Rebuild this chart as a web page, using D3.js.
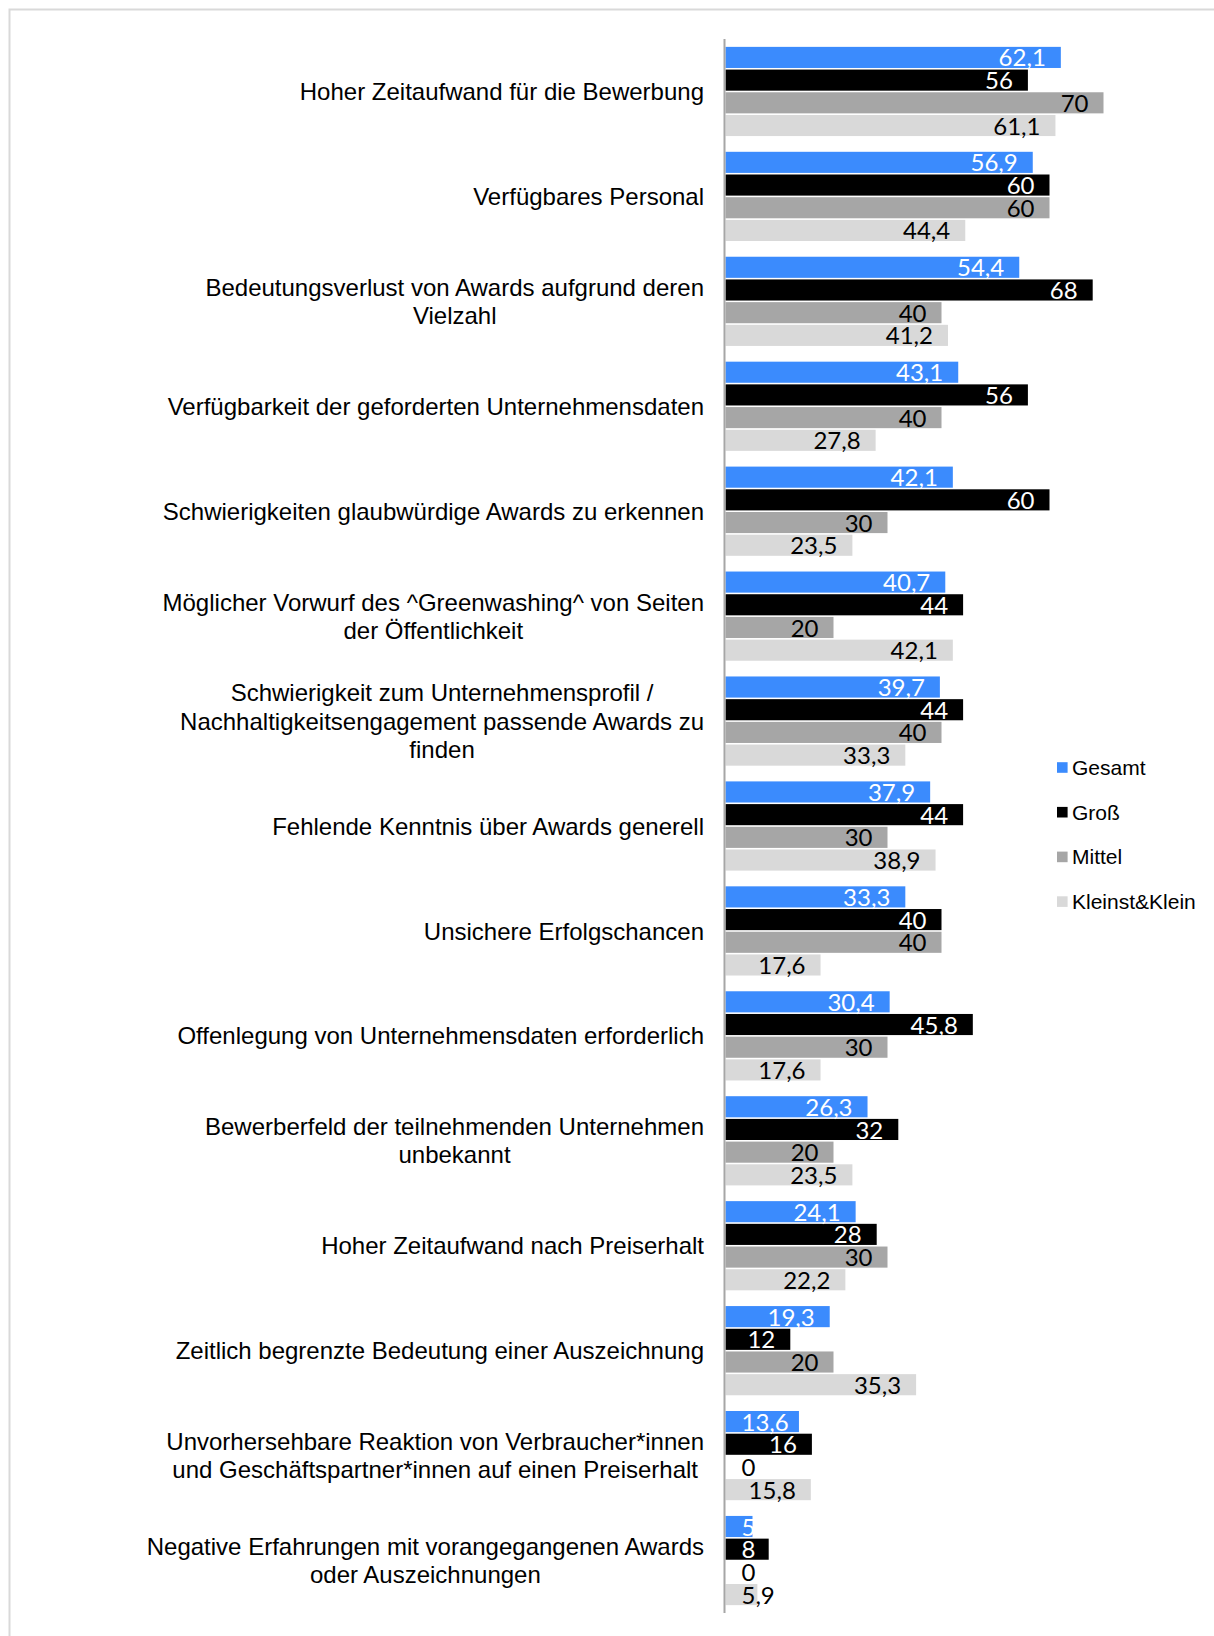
<!DOCTYPE html>
<html>
<head>
<meta charset="utf-8">
<script src="https://cdn.jsdelivr.net/npm/d3@7"></script>
<style>
  body { margin: 0; background: #fff; }
  svg { display: block; }
</style>
</head>
<body>
<svg id="chart" width="1214" height="1636"></svg>
<script>
// categories (label lines split with "|")
const categories = [
  "Hoher Zeitaufwand für die Bewerbung",
  "Verfügbares Personal",
  "Bedeutungsverlust von Awards aufgrund deren|Vielzahl",
  "Verfügbarkeit der geforderten Unternehmensdaten",
  "Schwierigkeiten glaubwürdige Awards zu erkennen",
  "Möglicher Vorwurf des ^Greenwashing^ von Seiten|der Öffentlichkeit",
  "Schwierigkeit zum Unternehmensprofil /|Nachhaltigkeitsengagement passende Awards zu|finden",
  "Fehlende Kenntnis über Awards generell",
  "Unsichere Erfolgschancen",
  "Offenlegung von Unternehmensdaten erforderlich",
  "Bewerberfeld der teilnehmenden Unternehmen|unbekannt",
  "Hoher Zeitaufwand nach Preiserhalt",
  "Zeitlich begrenzte Bedeutung einer Auszeichnung",
  "Unvorhersehbare Reaktion von Verbraucher*innen|und Geschäftspartner*innen auf einen Preiserhalt",
  "Negative Erfahrungen mit vorangegangenen Awards|oder Auszeichnungen"
];

const series = ["Gesamt", "Groß", "Mittel", "Kleinst&Klein"];

const gesamt = [62.1, 56.9, 54.4, 43.1, 42.1, 40.7, 39.7, 37.9, 33.3, 30.4, 26.3, 24.1, 19.3, 13.6, 5];
const gross  = [56, 60, 68, 56, 60, 44, 44, 44, 40, 45.8, 32, 28, 12, 16, 8];
const mittel = [70, 60, 40, 40, 30, 20, 40, 30, 40, 30, 20, 30, 20, 0, 0];
const klein  = [61.1, 44.4, 41.2, 27.8, 23.5, 42.1, 33.3, 38.9, 17.6, 17.6, 23.5, 22.2, 35.3, 15.8, 5.9];

const values = [gesamt, gross, mittel, klein];

const colors = ["#3b8bfd", "#000000", "#a6a6a6", "#d9d9d9"];
const labelColors = ["#ffffff", "#ffffff", "#000000", "#000000"];

const svg = d3.select("#chart");

// light frame round the chart area
svg.append("rect")
  .attr("x", 9.5).attr("y", 9.5)
  .attr("width", 1300).attr("height", 1700)
  .attr("fill", "none")
  .attr("stroke", "#d9d9d9")
  .attr("stroke-width", 2);

const x = d3.scaleLinear().domain([0, 70]).range([725.5, 1103.5]);

const y0 = d3.scaleBand()
  .domain(d3.range(categories.length))
  .range([39, 1613])
  .paddingInner(0.15)
  .paddingOuter(0.075);

const y1 = d3.scaleBand()
  .domain(d3.range(series.length))
  .range([0, y0.bandwidth()])
  .paddingInner(0.07);

const rows = categories.map((c, i) => ({
  i: i,
  label: c,
  vals: series.map((s, k) => ({ k: k, v: values[k][i] }))
}));

const groups = svg.append("g")
  .selectAll("g")
  .data(rows)
  .enter().append("g")
  .attr("transform", d => `translate(0,${y0(d.i)})`);

groups.selectAll("rect")
  .data(d => d.vals)
  .enter().append("rect")
  .attr("x", x(0))
  .attr("y", d => y1(d.k))
  .attr("width", d => x(d.v) - x(0))
  .attr("height", y1.bandwidth())
  .attr("fill", d => colors[d.k]);

// data labels, inside end, pushed right when bar is too short
groups.selectAll("text.val")
  .data(d => d.vals)
  .enter().append("text")
  .attr("class", "val")
  .attr("font-family", "Lato, 'Open Sans', sans-serif")
  .attr("font-size", 24)
  .attr("fill", d => d.v === 0 ? "#000" : labelColors[d.k])
  .attr("y", d => y1(d.k) + y1.bandwidth() - 1.5)
  .text(d => String(d.v).replace(".", ","))
  .each(function(d) {
    const w = this.getComputedTextLength();
    let left = x(d.v) - 15 - w;
    if (left < x(0) + 16) left = x(0) + 16;
    d3.select(this).attr("x", left);
  });

// category labels, block right-aligned, lines centred
const labelRight = 704;
const lineH = 28.2;
groups.each(function(d) {
  const g = d3.select(this);
  const lines = d.label.split("|");
  const t = g.append("text")
    .attr("font-family", "'Liberation Sans', Arial, sans-serif")
    .attr("font-size", 24)
    .attr("fill", "#000")
    .attr("text-anchor", "middle");
  const cy = y0.bandwidth() / 2;
  const spans = lines.map((ln, j) => t.append("tspan")
    .attr("y", cy + (j - (lines.length - 1) / 2) * lineH + 8.6)
    .text(ln));
  const maxW = d3.max(spans, s => s.node().getComputedTextLength());
  spans.forEach(s => s.attr("x", labelRight - maxW / 2));
});

// vertical axis line
svg.append("line")
  .attr("x1", 724.5).attr("x2", 724.5)
  .attr("y1", 39).attr("y2", 1613)
  .attr("stroke", "#a6a6a6")
  .attr("stroke-width", 2);

// legend
const legend = svg.append("g")
  .selectAll("g")
  .data(series)
  .enter().append("g")
  .attr("transform", (d, i) => `translate(1057,${767.5 + i * 44.7})`);

legend.append("rect")
  .attr("x", 0).attr("y", -5.3)
  .attr("width", 10.6).attr("height", 10.6)
  .attr("fill", (d, i) => colors[i]);

legend.append("text")
  .attr("x", 15)
  .attr("y", 7.5)
  .attr("font-family", "'Liberation Sans', Arial, sans-serif")
  .attr("font-size", 21)
  .attr("fill", "#000")
  .text(d => d);
</script>
</body>
</html>
